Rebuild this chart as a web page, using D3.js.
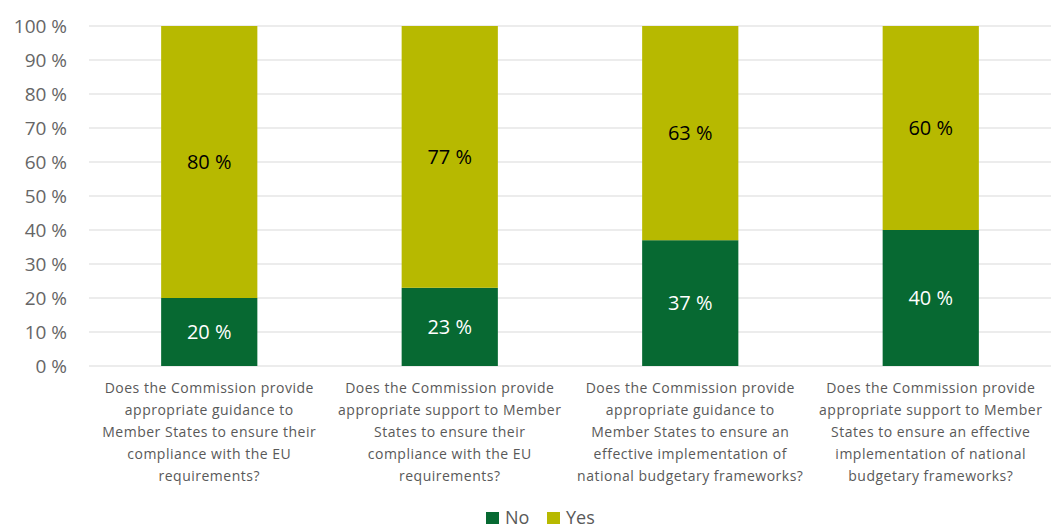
<!DOCTYPE html>
<html>
<head>
<meta charset="utf-8">
<script src="https://cdn.jsdelivr.net/npm/d3@7"></script>
<style>
  body { margin: 0; background: #fff; }
  svg text { font-family: "Open Sans", "Noto Sans", sans-serif; }
</style>
</head>
<body>
<svg width="1051" height="531"></svg>
<script>
// survey answers, share of respondents (%)
const categories = [
  ["Does the Commission provide", "appropriate guidance to", "Member States to ensure their", "compliance with the EU", "requirements?"],
  ["Does the Commission provide", "appropriate support to Member", "States to ensure their", "compliance with the EU", "requirements?"],
  ["Does the Commission provide", "appropriate guidance to", "Member States to ensure an", "effective implementation of", "national budgetary frameworks?"],
  ["Does the Commission provide", "appropriate support to Member", "States to ensure an effective", "implementation of national", "budgetary frameworks?"]
];
const noValues = [20, 23, 37, 40];
const yesValues = [80, 77, 63, 60];
const yTicks = [0, 10, 20, 30, 40, 50, 60, 70, 80, 90, 100];
const seriesNames = ["No", "Yes"];
const colors = ["#076932", "#b7b900"];

const svg = d3.select("svg");
const margin = {top: 26, right: 0, bottom: 165, left: 89};
const width = 1051 - margin.left - margin.right;
const height = 531 - margin.top - margin.bottom;

const rows = categories.map((c, i) => ({key: i, No: noValues[i], Yes: yesValues[i]}));
const stacked = d3.stack().keys(seriesNames)(rows);

const x = d3.scaleBand().domain(d3.range(categories.length)).range([0, width]).paddingInner(0.6).paddingOuter(0.3);
const y = d3.scaleLinear().domain([0, 100]).range([height, 0]);

const g = svg.append("g").attr("transform", `translate(${margin.left},${margin.top})`);

// gridlines
g.append("g")
  .selectAll("line")
  .data(yTicks)
  .enter()
  .append("line")
  .attr("x1", 0)
  .attr("x2", width)
  .attr("y1", d => y(d))
  .attr("y2", d => y(d))
  .attr("stroke", "#d9d9d9")
  .attr("stroke-width", 1);

// y axis labels
const yAxis = g.append("g")
  .call(d3.axisLeft(y).tickValues(yTicks).tickFormat(d => d + " %").tickSize(0).tickPadding(22));
yAxis.select(".domain").remove();
yAxis.selectAll("text")
  .attr("fill", "#666")
  .style("font-size", "19px")
  .style("font-family", "'Open Sans', sans-serif");

// bars
const layer = g.selectAll(".layer")
  .data(stacked)
  .enter()
  .append("g")
  .attr("fill", (d, i) => colors[i]);

layer.selectAll("rect")
  .data(d => d)
  .enter()
  .append("rect")
  .attr("x", d => x(d.data.key))
  .attr("y", d => y(d[1]))
  .attr("width", x.bandwidth())
  .attr("height", d => y(d[0]) - y(d[1]));

// value labels
layer.selectAll("text")
  .data((d, i) => d.map(p => ({p, i})))
  .enter()
  .append("text")
  .attr("x", d => x(d.p.data.key) + x.bandwidth() / 2)
  .attr("y", d => (y(d.p[0]) + y(d.p[1])) / 2)
  .attr("dy", "0.35em")
  .attr("text-anchor", "middle")
  .attr("fill", d => d.i === 0 ? "#fff" : "#000")
  .style("font-size", "20px")
  .text(d => (d.p[1] - d.p[0]) + " %");

// category labels
const catG = g.append("g").attr("transform", `translate(0,${height})`);
categories.forEach((lines, i) => {
  const t = catG.append("text")
    .attr("x", x(i) + x.bandwidth() / 2)
    .attr("y", 27)
    .attr("text-anchor", "middle")
    .attr("fill", "#595959")
    .style("font-size", "14px")
    .style("letter-spacing", "0.5px");
  lines.forEach((l, j) => {
    t.append("tspan")
      .attr("x", x(i) + x.bandwidth() / 2)
      .attr("dy", j === 0 ? 0 : 22)
      .text(l);
  });
});

// legend
const legend = svg.append("g").attr("transform", "translate(486,524)");
const legendX = [0, 61];
seriesNames.forEach((n, i) => {
  const item = legend.append("g").attr("transform", `translate(${legendX[i]},0)`);
  item.append("rect").attr("x", 0).attr("y", -12).attr("width", 13).attr("height", 12).attr("fill", colors[i]);
  item.append("text").attr("x", 19).attr("y", 0)
    .attr("fill", "#595959").style("font-size", "18px").text(n);
});
</script>
</body>
</html>
